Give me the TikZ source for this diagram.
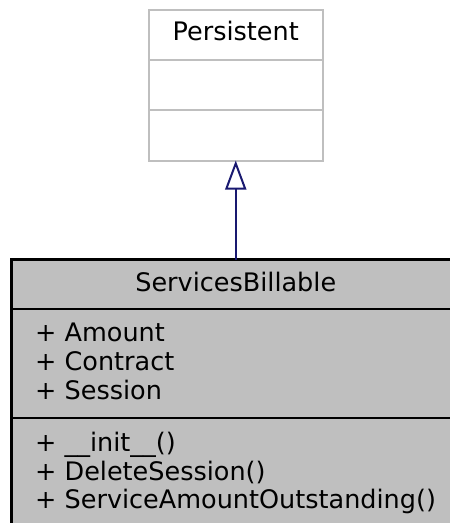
\documentclass[tikz,border=0pt]{standalone}
\usepackage{fontspec}
\setmainfont{DejaVu Sans}
\usetikzlibrary{arrows.meta}
\definecolor{boxgray}{HTML}{BFBFBF}
\definecolor{edgeblue}{HTML}{191970}
\tikzset{
  umltext/.style={font=\fontsize{25.5}{29}\selectfont, inner sep=0pt, text=black},
  basebox/.style={draw=boxgray, line width=2pt, fill=white},
  mainbox/.style={draw=black, line width=2.6pt, fill=boxgray},
  inherit/.style={draw=edgeblue, line width=2pt, -{Triangle[open, length=29pt, width=21pt, line width=2pt]}}
}
\begin{document}
\begin{tikzpicture}[x=1pt,y=-1pt]
\useasboundingbox (0,0) rectangle (450,523);
% Persistent
\draw[basebox] (149,9.5) rectangle (322.5,160.5);
\draw[draw=boxgray, line width=2pt] (149,60) -- (322.5,60);
\draw[draw=boxgray, line width=2pt] (149,109.5) -- (322.5,109.5);
\node[umltext, anchor=base] (ptitle) at (235.75,40.5) {Persistent};
\coordinate (pbot) at (235.75,160.5);
% ServicesBillable
\draw[mainbox] (11.3,259.5) rectangle (453,527);
\draw[draw=black, line width=2.6pt] (11.3,309) -- (453,309);
\draw[draw=black, line width=2.6pt] (11.3,418) -- (453,418);
\node[umltext, anchor=base] (stitle) at (235.75,291) {ServicesBillable};
\coordinate (stop) at (235.75,259.5);
\node[umltext, anchor=base west] (a1) at (35,341) {+ Amount};
\node[umltext, anchor=base west] (a2) at (35,370) {+ Contract};
\node[umltext, anchor=base west] (a3) at (35,399) {+ Session};
\node[umltext, anchor=base west] (m1) at (35,451) {+ \_\_init\_\_()};
\node[umltext, anchor=base west] (m2) at (35,480) {+ DeleteSession()};
\node[umltext, anchor=base west] (m3) at (35,508.5) {+ ServiceAmountOutstanding()};
% inheritance
\draw[inherit] (stop) -- (pbot);
\end{tikzpicture}
\end{document}
